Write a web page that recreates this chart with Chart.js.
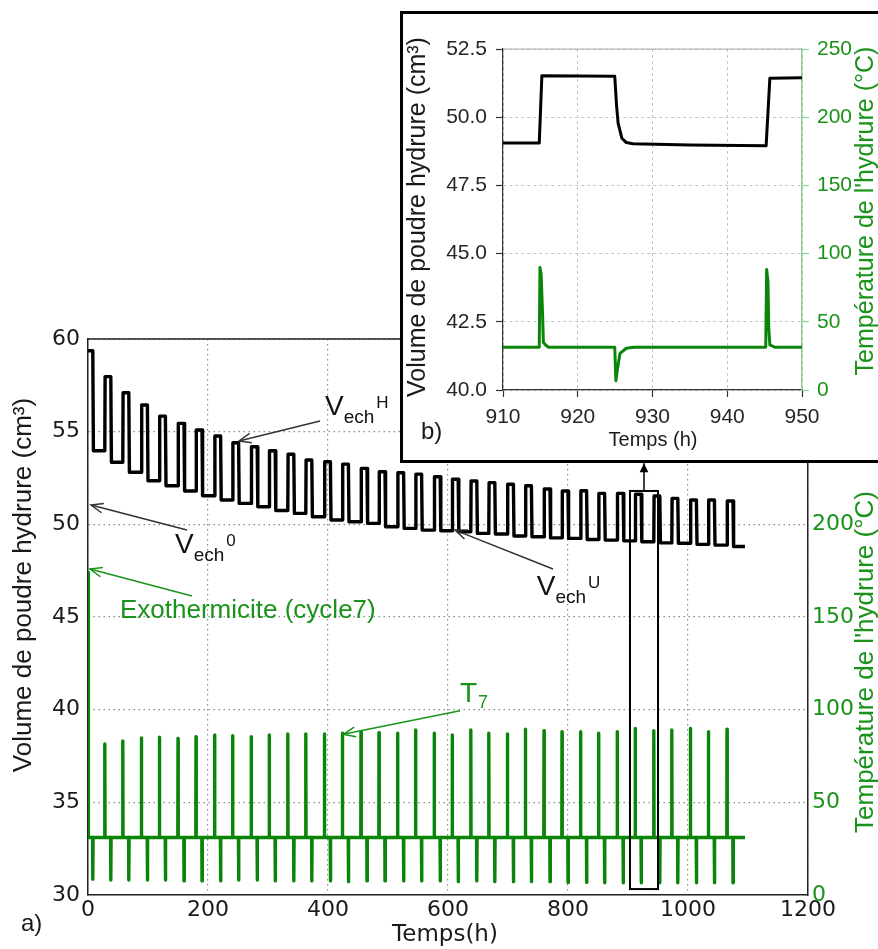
<!DOCTYPE html>
<html>
<head>
<meta charset="utf-8">
<script src="https://cdn.jsdelivr.net/npm/chart.js@4.4.1/dist/chart.umd.min.js"></script>
<style>
  html, body { margin: 0; padding: 0; background: #fff; }
  body { width: 878px; height: 949px; position: relative; overflow: hidden; }
  #mainChart { position: absolute; left: 0; top: 0; }
  #insetBox { position: absolute; left: 400px; top: 11px; width: 490px; height: 446px;
              border: 3px solid #000; background: #fff; }
  #insetChart { position: absolute; left: 0; top: 0; }
</style>
</head>
<body>
<canvas id="mainChart" width="878" height="949"></canvas>
<div id="insetBox"><canvas id="insetChart" width="475" height="446"></canvas></div>
<script>
// ---- (a) whole run, one entry per hydriding cycle ----
const cycleStart  = [0, 28, 58, 89, 119, 150, 180, 211, 241, 272, 302, 333, 363, 394, 424, 455, 485, 516,
                     546, 577, 607, 638, 668, 699, 729, 760, 790, 821, 851, 882, 912, 943, 973, 1004, 1034, 1065];
const cycleSwitch = [8, 38, 68, 99, 129, 160, 190, 221, 251, 282, 312, 343, 373, 404, 434, 465, 495, 526,
                     556, 587, 617, 648, 678, 709, 739, 770, 800, 831, 861, 892, 922, 953, 983, 1014, 1044, 1075];
const volHydride  = [59.37, 57.97, 57.10, 56.44, 55.84, 55.45, 55.09, 54.77, 54.40, 54.19, 53.97, 53.78,
                     53.47, 53.38, 53.25, 53.02, 52.84, 52.78, 52.71, 52.57, 52.43, 52.34, 52.25, 52.16,
                     52.08, 51.91, 51.80, 51.81, 51.67, 51.67, 51.62, 51.53, 51.40, 51.31, 51.31, 51.26];
const volEmpty    = [53.97, 53.35, 52.81, 52.35, 52.08, 51.80, 51.54, 51.31, 51.13, 50.95, 50.75, 50.59,
                     50.41, 50.23, 50.14, 50.05, 49.87, 49.78, 49.69, 49.65, 49.60, 49.51, 49.48, 49.37,
                     49.33, 49.27, 49.24, 49.18, 49.15, 49.11, 49.06, 49.00, 48.98, 48.92, 48.88, 48.80];
const tempPeak    = [174, 81.5, 83.1, 84.8, 85.1, 84.5, 85.4, 86.3, 86.0, 85.4, 86.3, 86.9,
                     86.9, 86.9, 87.3, 88.1, 87.6, 87.3, 89.0, 87.3, 86.3, 89.0, 87.3, 86.9,
                     89.4, 88.7, 88.1, 88.1, 87.3, 88.1, 89.9, 88.7, 89.0, 89.9, 88.1, 89.4];
const tempDip     = [8.5, 8.1, 8.1, 8.1, 8.1, 7.6, 7.6, 7.6, 8.1, 8.1, 7.6, 7.6,
                     7.6, 7.6, 7.2, 7.6, 7.6, 7.6, 7.6, 7.6, 7.2, 7.6, 7.2, 7.2,
                     7.2, 7.2, 6.8, 6.8, 6.6, 6.6, 6.6, 6.6, 6.6, 6.6, 6.6, 6.6];
const tempBase = 31;
const runEnd = 1095;

const mainTimeTicks = [0, 200, 400, 600, 800, 1000, 1200];
const mainVolTicks  = [30, 35, 40, 45, 50, 55, 60];
const mainTempTicks = [0, 50, 100, 150, 200, 250, 300];

// ---- (b) zoom 910-950 h ----
const insetVolTime  = [910, 914.85, 915.2, 924.95, 925.2, 925.4, 925.9, 926.5, 927.4, 935, 945.2, 945.7, 950];
const insetVol      = [49.05, 49.05, 51.52, 51.50, 50.4, 49.78, 49.23, 49.07, 49.03, 48.98, 48.95, 51.43, 51.45];
const insetTempTime = [910, 914.85, 914.95, 915.1, 915.3, 915.4, 915.7, 916.1, 924.95, 925.1, 925.3, 925.65,
                       926.5, 927.5, 945.15, 945.27, 945.45, 945.55, 945.7, 946.4, 950];
const insetTemp     = [31.3, 31.3, 89.9, 85, 55, 35, 33, 31.3, 31.3, 6.8, 15, 26.8,
                       30.6, 31.3, 31.3, 88.4, 79, 46, 33, 31.3, 31.3];

const insetTimeTicks = [910, 920, 930, 940, 950];
const insetVolTicks  = [40, 42.5, 45, 47.5, 50, 52.5];
const insetTempTicks = [0, 50, 100, 150, 200, 250];

const GREEN = '#0a850a';
const GREEN_TXT = '#1a931a';

// build the square-wave volume trace and spiky temperature trace from the cycle values
const volPoints = [{ x: cycleStart[0], y: volHydride[0] }];
const tempPoints = [{ x: cycleStart[0], y: tempPeak[0] }, { x: cycleStart[0] + 0.6, y: tempBase }];
for (let i = 0; i < cycleStart.length; i++) {
    if (i > 0) {
        volPoints.push({ x: cycleStart[i], y: volEmpty[i - 1] });
        volPoints.push({ x: cycleStart[i] + 0.5, y: volHydride[i] });
        tempPoints.push({ x: cycleStart[i] - 0.3, y: tempBase });
        tempPoints.push({ x: cycleStart[i], y: tempPeak[i] });
        tempPoints.push({ x: cycleStart[i] + 0.4, y: tempBase });
    }
    volPoints.push({ x: cycleSwitch[i], y: volHydride[i] });
    volPoints.push({ x: cycleSwitch[i] + 1, y: volEmpty[i] });
    tempPoints.push({ x: cycleSwitch[i] - 0.3, y: tempBase });
    tempPoints.push({ x: cycleSwitch[i], y: tempDip[i] });
    tempPoints.push({ x: cycleSwitch[i] + 0.5, y: tempBase });
}
volPoints.push({ x: runEnd, y: volEmpty[volEmpty.length - 1] });
tempPoints.push({ x: runEnd, y: tempBase });

const insetVolPoints = insetVolTime.map((t, i) => ({ x: t, y: insetVol[i] }));
const insetTempPoints = insetTempTime.map((t, i) => ({ x: t, y: insetTemp[i] }));

// annotation anchors, in data units (hours, cm3)
const vechNotes = [
    { sup: 'H', text: [395, 55.9],  tail: [386.7, 55.57], head: [251.7, 54.5] },
    { sup: '0', text: [145, 48.45], tail: [165, 49.69],   head: [5, 51.04] },
    { sup: 'U', text: [748, 46.18], tail: [775, 47.59],   head: [611.7, 49.69] }
];
const zoomBox = { t0: 903.3, t1: 950, v0: 30.32, v1: 51.8 };

const fixTicks = arr => scale => { scale.ticks = arr.map(v => ({ value: v })); };

function arrow(ctx, x0, y0, x1, y1, color, filled) {
    const ang = Math.atan2(y1 - y0, x1 - x0);
    const len = filled ? 10 : 13, spread = filled ? 0.45 : 0.38;
    ctx.save();
    ctx.strokeStyle = color;
    ctx.fillStyle = color;
    ctx.lineWidth = 1.5;
    ctx.beginPath();
    ctx.moveTo(x0, y0);
    ctx.lineTo(x1, y1);
    ctx.stroke();
    const ax = x1 - len * Math.cos(ang - spread), ay = y1 - len * Math.sin(ang - spread);
    const bx = x1 - len * Math.cos(ang + spread), by = y1 - len * Math.sin(ang + spread);
    ctx.beginPath();
    ctx.moveTo(ax, ay);
    ctx.lineTo(x1, y1);
    ctx.lineTo(bx, by);
    if (filled) { ctx.closePath(); ctx.fill(); } else { ctx.stroke(); }
    ctx.restore();
}

function vText(ctx, text, x, y, font, color) {
    ctx.save();
    ctx.translate(x, y);
    ctx.rotate(-Math.PI / 2);
    ctx.font = font;
    ctx.fillStyle = color;
    ctx.textAlign = 'center';
    ctx.textBaseline = 'middle';
    ctx.fillText(text, 0, 0);
    ctx.restore();
}

function hText(ctx, text, x, y, font, color, align) {
    ctx.font = font;
    ctx.fillStyle = color;
    ctx.textAlign = align || 'left';
    ctx.textBaseline = 'middle';
    ctx.fillText(text, x, y);
}

function subSup(ctx, main, sub, sup, x, y, color) {
    ctx.save();
    ctx.fillStyle = color;
    ctx.textAlign = 'left';
    ctx.textBaseline = 'alphabetic';
    ctx.font = '28px "Liberation Sans"';
    ctx.fillText(main, x, y);
    const w = ctx.measureText(main).width;
    ctx.font = '19px "Liberation Sans"';
    ctx.fillText(sub, x + w, y + 8);
    const w2 = ctx.measureText(sub).width;
    if (sup) {
        ctx.font = '17px "Liberation Sans"';
        ctx.fillText(sup, x + w + w2 + 2, y - 7);
    }
    ctx.restore();
}

const mainDecor = {
    id: 'mainDecor',
    afterDatasetsDraw(chart) {
        const { ctx, chartArea: a, scales: { x, y } } = chart;
        const X = t => x.getPixelForValue(t), Y = v => y.getPixelForValue(v);
        // top spine
        ctx.save();
        ctx.strokeStyle = '#222';
        ctx.lineWidth = 1.5;
        ctx.beginPath();
        ctx.moveTo(a.left, a.top);
        ctx.lineTo(a.right, a.top);
        ctx.stroke();
        // zoom window
        ctx.lineWidth = 2;
        ctx.strokeStyle = '#000';
        ctx.strokeRect(X(zoomBox.t0), Y(zoomBox.v1), X(zoomBox.t1) - X(zoomBox.t0), Y(zoomBox.v0) - Y(zoomBox.v1));
        ctx.restore();
        const mid = (zoomBox.t0 + zoomBox.t1) / 2;
        arrow(ctx, X(mid), Y(zoomBox.v1), X(mid), Y(53.3), '#000', true);

        vechNotes.forEach(n => {
            arrow(ctx, X(n.tail[0]), Y(n.tail[1]), X(n.head[0]), Y(n.head[1]), '#333', false);
            subSup(ctx, 'V', 'ech', n.sup, X(n.text[0]), Y(n.text[1]), '#111');
        });
        arrow(ctx, X(173.3), Y(46.13), X(3.3), Y(47.59), GREEN_TXT, false);
        ctx.save();
        ctx.font = '26px "Liberation Sans"';
        ctx.fillStyle = GREEN_TXT;
        ctx.textBaseline = 'alphabetic';
        ctx.fillText('Exothermicite (cycle7)', X(53.3), Y(44.93));
        ctx.restore();
        arrow(ctx, X(620), Y(39.94), X(425.5), Y(38.67), GREEN_TXT, false);
        ctx.save();
        ctx.fillStyle = GREEN_TXT;
        ctx.font = '28px "Liberation Sans"';
        ctx.fillText('T', X(620), Y(40.41));
        const tw = ctx.measureText('T').width;
        ctx.font = '18px "Liberation Sans"';
        ctx.fillText('7', X(620) + tw + 1, Y(40.41) + 6);
        ctx.restore();

        // axis titles and panel letter
        vText(ctx, 'Volume de poudre hydrure (cm³)', 24, 585, '26px "Liberation Sans"', '#1a1a1a');
        vText(ctx, 'Température de l\'hydrure (°C)', 866, 662, '26px "Liberation Sans"', GREEN_TXT);
        hText(ctx, 'Temps(h)', 445, 935, '23px "DejaVu Sans"', '#1a1a1a', 'center');
        hText(ctx, 'a)', 21, 924, '24px "Liberation Sans"', '#1a1a1a');
    }
};

const insetDecor = {
    id: 'insetDecor',
    afterDatasetsDraw(chart) {
        const { ctx, chartArea: a } = chart;
        ctx.save();
        ctx.strokeStyle = '#aaa';
        ctx.lineWidth = 1;
        ctx.beginPath();
        ctx.moveTo(a.left, a.top);
        ctx.lineTo(a.right, a.top);
        ctx.stroke();
        ctx.restore();
        vText(ctx, 'Volume de poudre hydrure (cm³)', 15, 203, '25px "Liberation Sans"', '#1a1a1a');
        vText(ctx, 'Température de l\'hydrure (°C)', 463, 197, '25px "Liberation Sans"', GREEN_TXT);
        hText(ctx, 'Temps (h)', 250, 426, '20px "Liberation Sans"', '#1a1a1a', 'center');
        hText(ctx, 'b)', 18, 418, '24px "Liberation Sans"', '#1a1a1a');
    }
};

const dottedGrid = { color: '#8a8a8a', lineWidth: 1.2, drawTicks: false };
const plainLabel = v => String(v);

new Chart(document.getElementById('mainChart'), {
    type: 'line',
    data: {
        datasets: [
            { data: tempPoints, yAxisID: 'y2', borderColor: GREEN, borderWidth: 3.4, borderJoinStyle: 'round' },
            { data: volPoints, yAxisID: 'y', borderColor: '#000', borderWidth: 3.4, borderJoinStyle: 'round' }
        ]
    },
    options: {
        responsive: false,
        animation: false,
        devicePixelRatio: 1,
        layout: { padding: { top: 339, left: 0, right: 0, bottom: 0 } },
        elements: { point: { radius: 0 }, line: { tension: 0 } },
        plugins: { legend: { display: false }, tooltip: { enabled: false } },
        scales: {
            x: {
                type: 'linear', min: 0, max: 1200,
                afterBuildTicks: fixTicks(mainTimeTicks),
                afterFit: s => { s.height = 54; },
                grid: dottedGrid,
                border: { color: '#222', width: 1.5, dash: [1.5, 3.5] },
                ticks: { color: '#1a1a1a', font: { family: 'DejaVu Sans', size: 22 }, padding: 2,
                         maxRotation: 0, autoSkip: false, callback: plainLabel }
            },
            y: {
                type: 'linear', position: 'left', min: 30, max: 60,
                afterBuildTicks: fixTicks(mainVolTicks),
                afterFit: s => { s.width = 88; },
                grid: dottedGrid,
                border: { color: '#222', width: 1.5, dash: [1.5, 3.5] },
                ticks: { color: '#1a1a1a', font: { family: 'DejaVu Sans', size: 22 }, padding: 8, callback: plainLabel }
            },
            y2: {
                type: 'linear', position: 'right', min: 0, max: 300,
                afterBuildTicks: fixTicks(mainTempTicks),
                afterFit: s => { s.width = 70; },
                grid: { drawOnChartArea: false, drawTicks: false },
                border: { color: '#222', width: 1.5 },
                ticks: { color: GREEN_TXT, font: { family: 'DejaVu Sans', size: 22 }, padding: 4, callback: plainLabel }
            }
        }
    },
    plugins: [mainDecor]
});

const dashedGrid = { color: '#c4c4c4', lineWidth: 1, tickLength: 7, tickColor: '#333', tickWidth: 1.2, tickBorderDash: [] };

new Chart(document.getElementById('insetChart'), {
    type: 'line',
    data: {
        datasets: [
            { data: insetVolPoints, yAxisID: 'y', borderColor: '#000', borderWidth: 3, borderJoinStyle: 'round' },
            { data: insetTempPoints, yAxisID: 'y2', borderColor: GREEN, borderWidth: 3, borderJoinStyle: 'round' }
        ]
    },
    options: {
        responsive: false,
        animation: false,
        devicePixelRatio: 1,
        layout: { padding: { top: 35, left: 0, right: 0, bottom: 0 } },
        elements: { point: { radius: 0 }, line: { tension: 0 } },
        plugins: { legend: { display: false }, tooltip: { enabled: false } },
        scales: {
            x: {
                type: 'linear', min: 910, max: 950,
                afterBuildTicks: fixTicks(insetTimeTicks),
                afterFit: s => { s.height = 70; },
                grid: dashedGrid,
                border: { color: '#333', width: 1.2, dash: [3, 3] },
                ticks: { color: '#262626', font: { family: 'Liberation Sans', size: 21 }, padding: 8,
                         maxRotation: 0, autoSkip: false, callback: plainLabel }
            },
            y: {
                type: 'linear', position: 'left', min: 40, max: 52.5,
                afterBuildTicks: fixTicks(insetVolTicks),
                afterFit: s => { s.width = 100; },
                grid: dashedGrid,
                border: { color: '#333', width: 1.2, dash: [3, 3] },
                ticks: { color: '#262626', font: { family: 'Liberation Sans', size: 21 }, padding: 9,
                         callback: v => v.toFixed(1) }
            },
            y2: {
                type: 'linear', position: 'right', min: 0, max: 250,
                afterBuildTicks: fixTicks(insetTempTicks),
                afterFit: s => { s.width = 76; },
                grid: { drawOnChartArea: false, tickLength: 7, tickColor: '#8fcf8f', tickWidth: 1.2 },
                border: { color: '#8fcf8f', width: 1.5 },
                ticks: { color: GREEN_TXT, font: { family: 'Liberation Sans', size: 21 }, padding: 8, callback: plainLabel }
            }
        }
    },
    plugins: [insetDecor]
});
</script>
</body>
</html>
